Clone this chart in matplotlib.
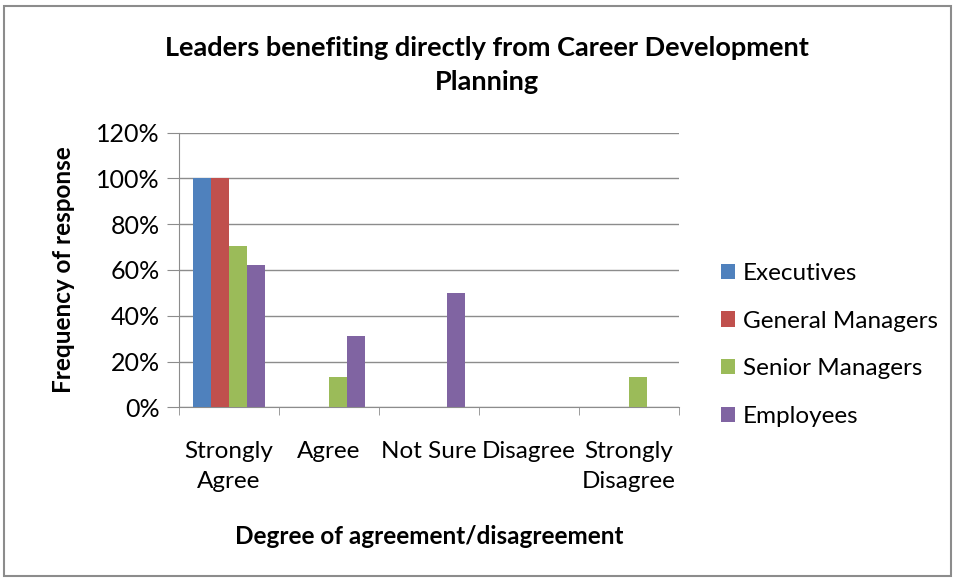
import matplotlib
matplotlib.use("Agg")
import matplotlib.pyplot as plt
import numpy as np
from matplotlib.ticker import FuncFormatter, FixedLocator
from matplotlib.patches import Rectangle

# data
categories = ["Strongly\nAgree", "Agree", "Not Sure", "Disagree", "Strongly\nDisagree"]
series_names = ["Executives", "General Managers", "Senior Managers", "Employees"]
executives = [1.00, 0, 0, 0, 0]
general_managers = [1.00, 0, 0, 0, 0]
senior_managers = [0.706, 0.133, 0, 0, 0.133]
employees = [0.62, 0.31, 0.50, 0, 0]
colors = ["#4F81BD", "#C0504D", "#9BBB59", "#8064A2"]

plt.rcParams["font.family"] = ["Lato", "DejaVu Sans"]
FS = 17.5

fig = plt.figure(figsize=(9.55, 5.8), dpi=100)
ax = fig.add_axes([179 / 955, 1 - 407.3 / 580, 500 / 955, 274.6 / 580])

x = np.arange(len(categories))
width = 0.18
all_series = [executives, general_managers, senior_managers, employees]
for i, (vals, name, c) in enumerate(zip(all_series, series_names, colors)):
    ax.bar(x + (i - 1.5) * width, vals, width, color=c, label=name, zorder=3)

ax.set_xlim(-0.5, len(categories) - 0.5)
ax.set_ylim(0, 1.2)
ax.set_yticks(np.arange(0, 1.21, 0.2))
ax.yaxis.set_major_formatter(FuncFormatter(lambda v, p: f"{v * 100:.0f}%"))
ax.grid(axis="y", color="#8c8c8c", lw=1, zorder=0)

ax.set_xticks(x)
ax.set_xticklabels(categories, fontsize=FS, linespacing=1.55)
ax.xaxis.set_minor_locator(FixedLocator(np.arange(-0.5, len(categories), 1)))
ax.tick_params(axis="x", which="major", length=0, pad=24)
ax.tick_params(axis="x", which="minor", length=6, color="#8c8c8c")
ax.tick_params(axis="y", length=9, color="#8c8c8c", labelsize=18, pad=5)

for s in ["top", "right"]:
    ax.spines[s].set_visible(False)
for s in ["left", "bottom"]:
    ax.spines[s].set_color("#8c8c8c")

ax.set_ylabel("Frequency of response", fontsize=FS, fontweight="bold", labelpad=15)
ax.set_xlabel("Degree of agreement/disagreement", fontsize=FS, fontweight="bold", labelpad=24)

fig.text(0.51, 1 - 65 / 580, "Leaders benefiting directly from Career Development\nPlanning",
         ha="center", va="center", fontsize=19.5, fontweight="bold", linespacing=1.5)

ax.legend(loc="center left", bbox_to_anchor=(1.04, 0.227), frameon=False, fontsize=FS,
          handlelength=0.6, handleheight=0.6, handletextpad=0.3, labelspacing=1.1)

fig.patches.append(Rectangle((4 / 955, 4 / 580), 947 / 955, 570 / 580, transform=fig.transFigure,
                             fill=False, edgecolor="#8c8c8c", lw=1.5))

fig.savefig("out.png", dpi=100)
